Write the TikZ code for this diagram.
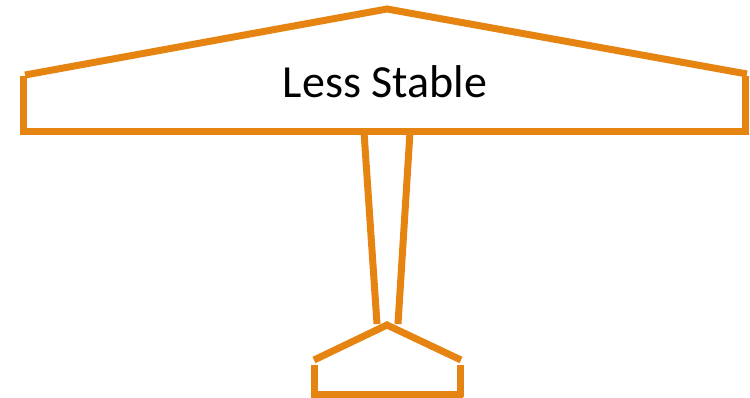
\documentclass[tikz,border=0pt]{standalone}
\usepackage{fontspec}
\setmainfont{Carlito}
\definecolor{wingorange}{RGB}{230,132,18}
\begin{document}
\begin{tikzpicture}[x=1pt,y=-1pt,
  edge/.style={draw=wingorange,line width=7pt,line cap=butt}]
\useasboundingbox (0,0) rectangle (750,398);
% main wing
\draw[edge] (23,76) -- (23,135);
\draw[edge] (20,132) -- (748,132);
\draw[edge] (745,76) -- (745,135);
\draw[edge] (25,75) -- (387,9) -- (747,74);
% fuselage
\draw[edge] (364,132) -- (377,324);
\draw[edge] (410,132) -- (398,324);
% tail
\draw[edge] (314,360) -- (387,325) -- (461,360);
\draw[edge] (314,365) -- (314,397);
\draw[edge] (460,365) -- (460,397);
\draw[edge] (311,394) -- (463,394);
\node[font=\fontsize{46}{50}\selectfont,inner sep=0pt] (label) at (385,82) {Less Stable};
\end{tikzpicture}
\end{document}
